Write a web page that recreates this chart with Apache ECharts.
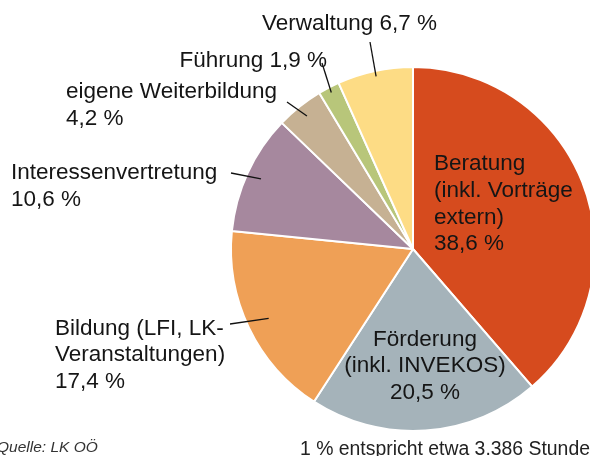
<!DOCTYPE html>
<html>
<head>
<meta charset="utf-8">
<script src="https://cdn.jsdelivr.net/npm/echarts@6/dist/echarts.min.js"></script>
<style>
  html, body { margin: 0; padding: 0; background: #fff; }
  #chart { width: 590px; height: 456px; }
</style>
</head>
<body>
<div id="chart"></div>
<script>
// Arbeitszeit-Verteilung (Anteile in %)
const categories = [
  'Beratung (inkl. Vorträge extern)',
  'Förderung (inkl. INVEKOS)',
  'Bildung (LFI, LK-Veranstaltungen)',
  'Interessenvertretung',
  'eigene Weiterbildung',
  'Führung',
  'Verwaltung'
];
const shares = [38.6, 20.5, 17.4, 10.6, 4.2, 1.9, 6.7];
const labelHeads = [
  'Beratung\n(inkl. Vorträge\nextern)\n',
  'Förderung\n(inkl. INVEKOS)\n',
  'Bildung (LFI, LK-\nVeranstaltungen)\n',
  'Interessenvertretung\n',
  'eigene Weiterbildung\n',
  'Führung ',
  'Verwaltung '
];
const sourceText = 'Quelle: LK OÖ';
const noteText = '1 % entspricht etwa 3.386 Stunden';

const colors = ['#D64B1E', '#A5B3BA', '#EFA056', '#A6889E', '#C6B193', '#B8C67A', '#FDDC85'];

// Pie geometry
const CX = 413, CY = 249, R = 182;
const FONT = 'Liberation Sans, Arial, sans-serif';

// Label placement: anchor, alignment, start of the leader line and how deep it reaches into the slice
const placement = [
  { x: 434, y: 204, align: 'left' },
  { x: 425, y: 366, align: 'center' },
  { x: 55, y: 355, align: 'left', from: [230, 324], depth: 0.88 },
  { x: 11, y: 186, align: 'left', from: [231, 173], depth: 0.92 },
  { x: 66, y: 105, align: 'left', from: [287, 102], depth: 0.935 },
  { x: 327, y: 61, align: 'right', from: [322, 63], depth: 0.97 },
  { x: 262, y: 24, align: 'left', from: [370, 42], depth: 0.97 }
];

const total = shares.reduce((a, b) => a + b, 0);
const midAngles = [];
let acc = 0;
shares.forEach(v => { midAngles.push((acc + v / 2) / total * Math.PI * 2); acc += v; });

const fmt = v => v.toFixed(1).replace('.', ',') + ' %';

const pieBase = {
  type: 'pie',
  center: [CX, CY],
  radius: R,
  startAngle: 90,
  clockwise: true,
  avoidLabelOverlap: false,
  silent: true
};

const chart = echarts.init(document.getElementById('chart'), null, { renderer: 'canvas' });
chart.setOption({
  animation: false,
  title: [
    {
      text: sourceText, left: -3, top: 440, padding: 0,
      textStyle: { fontFamily: FONT, fontStyle: 'italic', fontWeight: 'normal', fontSize: 15.5, color: '#333' }
    },
    {
      text: noteText, left: 300, top: 440, padding: 0,
      textStyle: { fontFamily: FONT, fontWeight: 'normal', fontSize: 19.4, color: '#222' }
    }
  ],
  series: [
    // coloured slices
    Object.assign({}, pieBase, {
      z: 2,
      itemStyle: { borderColor: '#fff', borderWidth: 2 },
      label: { show: false },
      labelLine: { show: false },
      data: categories.map((name, i) => ({ name: name, value: shares[i], itemStyle: { color: colors[i] } }))
    }),
    // labels and leader lines, drawn on top of the slices
    Object.assign({}, pieBase, {
      z: 5,
      itemStyle: { color: 'rgba(0,0,0,0)', borderWidth: 0 },
      label: {
        show: true,
        position: 'outside',
        overflow: 'none',
        fontFamily: FONT,
        fontSize: 22.5,
        lineHeight: 26.7,
        color: '#151515',
        formatter: p => labelHeads[p.dataIndex] + fmt(p.value)
      },
      labelLine: { show: true, lineStyle: { color: '#111', width: 1.3 } },
      labelLayout: function (params) {
        const i = params.dataIndex;
        const pl = placement[i];
        const out = { x: pl.x, y: pl.y, align: pl.align, verticalAlign: 'middle' };
        if (pl.from) {
          const a = midAngles[i], rho = R * pl.depth;
          out.labelLinePoints = [
            pl.from,
            [CX + rho * Math.sin(a), CY - rho * Math.cos(a)]
          ];
        }
        return out;
      },
      data: categories.map((name, i) => ({
        name: name,
        value: shares[i],
        labelLine: { show: i >= 2 }
      }))
    })
  ]
});
</script>
</body>
</html>
